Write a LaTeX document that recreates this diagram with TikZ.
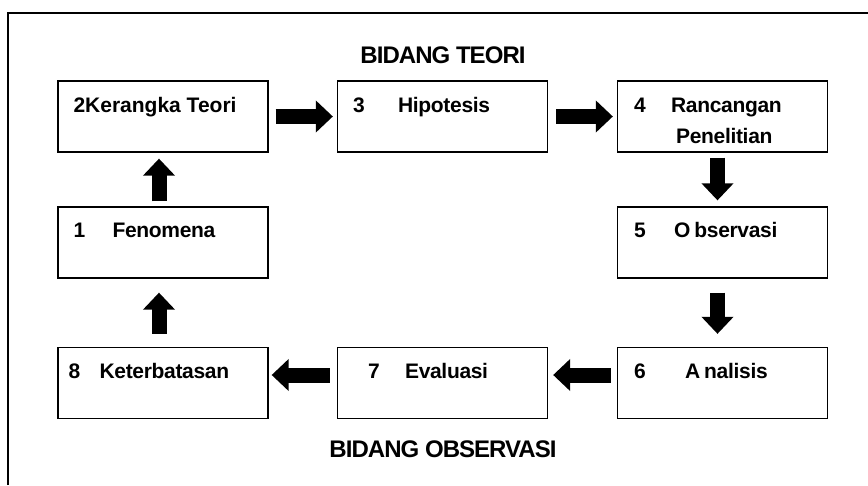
\documentclass[tikz,border=0pt]{standalone}
\usepackage{fontspec}
\setmainfont{Liberation Sans}
\usetikzlibrary{arrows.meta}

\tikzset{
  box/.style={draw, line width=1.3pt, minimum width=210pt, minimum height=71pt, inner sep=0pt},
  num/.style={anchor=base west, inner sep=0pt, font=\fontsize{21}{23}\selectfont\bfseries},
  lbl/.style={anchor=base west, inner sep=0pt, font=\fontsize{21}{23}\selectfont\bfseries\addfontfeatures{LetterSpace=-1.5}},
  ttl/.style={anchor=base, inner sep=0pt, font=\fontsize{24}{26}\selectfont\bfseries\addfontfeatures{LetterSpace=-4}},
  bigarrow/.style={line width=15pt, -{Triangle[length=17pt, width=31pt]}}
}

\begin{document}
\begin{tikzpicture}[x=1pt, y=-1pt]
\useasboundingbox (0,0) rectangle (868,485);
\draw[line width=1.5pt] (8,485) -- (8,13) -- (868,13);

% boxes
\node[box] (b2) at (163,116.5) {};
\node[box] (b3) at (442.5,116.5) {};
\node[box] (b4) at (722.5,116.5) {};
\node[box] (b1) at (163,242.5) {};
\node[box] (b5) at (722.5,242.5) {};
\node[box] (b8) at (163,383) {};
\node[box] (b7) at (442.5,383) {};
\node[box] (b6) at (722.5,383) {};

% titles
\node[ttl] (teori) at (443,63) {BIDANG TEORI};
\node[ttl] (obs) at (443,457) {BIDANG OBSERVASI};

% texts
\node[num] (t2) at ([shift={(16,32)}]b2.north west) {2Kerangka Teori};
\node[num] (n3) at ([shift={(16,32)}]b3.north west) {3};
\node[lbl] (t3) at ([shift={(61,32)}]b3.north west) {Hipotesis};
\node[num] (n4) at ([shift={(17,32)}]b4.north west) {4};
\node[lbl] (t4) at ([shift={(54,32)}]b4.north west) {Rancangan};
\node[lbl] (t4b) at ([shift={(59,63)}]b4.north west) {Penelitian};
\node[num] (n1) at ([shift={(16,31)}]b1.north west) {1};
\node[lbl] (t1) at ([shift={(55,31)}]b1.north west) {Fenomena};
\node[num] (n5) at ([shift={(17,31)}]b5.north west) {5};
\node[lbl] (t5) at ([shift={(57,31)}]b5.north west) {O\kern4pt bservasi};
\node[num] (n8) at ([shift={(11,32)}]b8.north west) {8};
\node[lbl] (t8) at ([shift={(42,32)}]b8.north west) {Keterbatasan};
\node[num] (n7) at ([shift={(31,32)}]b7.north west) {7};
\node[lbl] (t7) at ([shift={(68,32)}]b7.north west) {Evaluasi};
\node[num] (n6) at ([shift={(17,32)}]b6.north west) {6};
\node[lbl] (t6) at ([shift={(68,32)}]b6.north west) {A\kern4pt nalisis};

% arrows
\draw[bigarrow, shorten <=7pt, shorten >=4pt] (b2) -- (b3);
\draw[bigarrow, shorten <=8pt, shorten >=4pt] (b3) -- (b4);
\draw[bigarrow, shorten <=5pt, shorten >=6pt] ([xshift=-5pt]b4.south) -- ([xshift=-5pt]b5.north);
\draw[bigarrow, shorten <=14pt, shorten >=13pt] ([xshift=-5pt]b5.south) -- ([xshift=-5pt]b6.north);
\draw[bigarrow, shorten <=6pt, shorten >=5pt] ([yshift=8pt]b6.west) -- ([yshift=8pt]b7.east);
\draw[bigarrow, shorten <=7pt, shorten >=3pt] ([yshift=8pt]b7.west) -- ([yshift=8pt]b8.east);
\draw[bigarrow, shorten <=13pt, shorten >=14pt] ([xshift=-4pt]b8.north) -- ([xshift=-4pt]b1.south);
\draw[bigarrow, shorten <=5pt, shorten >=6pt] ([xshift=-4pt]b1.north) -- ([xshift=-4pt]b2.south);
\end{tikzpicture}
\end{document}
